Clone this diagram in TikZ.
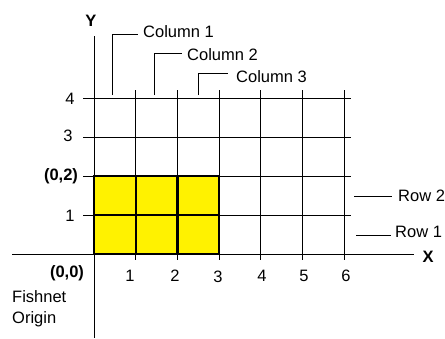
\documentclass[tikz,border=0pt]{standalone}
\usepackage{fontspec}
\setmainfont{Liberation Sans}
\begin{document}
\begin{tikzpicture}[x=1pt,y=-1pt,
  lbl/.style={inner sep=2pt,font=\fontsize{16.5}{20}\selectfont},
  blbl/.style={inner sep=2pt,font=\fontsize{16.5}{20}\selectfont\bfseries},
  gridline/.style={line width=0.8pt,black},
  thickline/.style={line width=2.4pt,black},
  leader/.style={line width=0.8pt,black}]
\useasboundingbox (0,0) rectangle (445,338);
% yellow block
\fill[yellow] (94,254) rectangle (219.1,176);
% grid
\foreach \yy in {98,137,176,215} \draw[gridline] (83,\yy) -- (351,\yy);
\foreach \xx in {135.7,177.4,219.1,260.8,302.5,344.2} \draw[gridline] (\xx,90) -- (\xx,260);
% axes
\draw[gridline] (94,36) -- (94,338);
\draw[gridline] (12,254) -- (414,254);
% thick outline of block
\draw[thickline] (94,254) rectangle (219.1,176);
\draw[thickline] (135.7,254) -- (135.7,176);
\draw[thickline] (177.4,254) -- (177.4,176);
\draw[thickline] (94,215) -- (219.1,215);
% axis names
\node[blbl] (ylab) at (91,21) {Y};
\node[blbl] (xlab) at (428,257) {X};
% y tick labels
\node[lbl] (y4) at (70,99) {4};
\node[lbl] (y3) at (68,136) {3};
\node[blbl] (y2) at (61,176) {(0,2)};
\node[lbl] (y1) at (70,216) {1};
\node[blbl] (o) at (67,273) {(0,0)};
% x tick labels
\node[lbl] (x1) at (130,276) {1};
\node[lbl] (x2) at (175,276) {2};
\node[lbl] (x3) at (218,277) {3};
\node[lbl] (x4) at (262,276) {4};
\node[lbl] (x5) at (304,276) {5};
\node[lbl] (x6) at (346,276) {6};
% fishnet origin
\node[lbl,anchor=north west,align=left,font=\fontsize{16.5}{21}\selectfont] (fo) at (10,288) {Fishnet\\Origin};
% column labels
\node[lbl,anchor=west] (c1) at (141,32) {Column 1};
\node[lbl,anchor=west] (c2) at (185,55) {Column 2};
\node[lbl,anchor=west] (c3) at (234,77) {Column 3};
\coordinate (c1b) at (112,95);
\coordinate (c2b) at (154,95);
\coordinate (c3b) at (198,95);
\draw[leader] (c1b) |- ([xshift=-3pt,yshift=-2pt]c1.west);
\draw[leader] (c2b) |- ([xshift=-3pt,yshift=2pt]c2.west);
\draw[leader] (c3b) |- ([xshift=-6pt,yshift=4pt]c3.west);
% row labels
\node[lbl,anchor=west] (r2) at (396,196) {Row 2};
\node[lbl,anchor=west] (r1) at (393,232) {Row 1};
\coordinate (r2a) at (354,196);
\coordinate (r1a) at (356,235);
\draw[leader] (r2a) -- ([xshift=-4pt]r2a -| r2.west);
\draw[leader] (r1a) -- ([xshift=-2pt]r1a -| r1.west);
\end{tikzpicture}
\end{document}
